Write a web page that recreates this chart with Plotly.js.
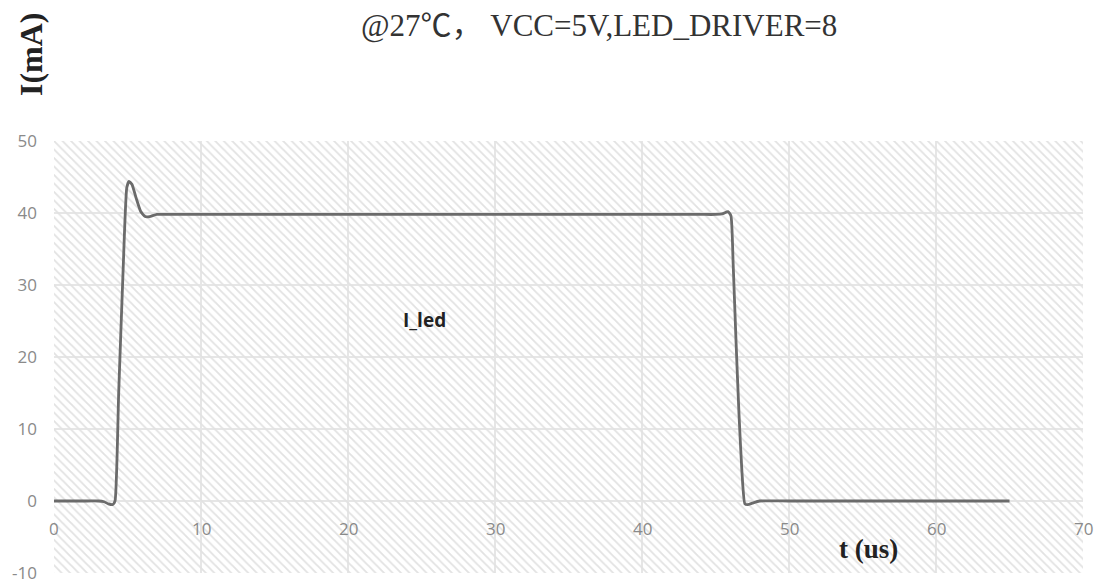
<!DOCTYPE html>
<html>
<head>
<meta charset="utf-8">
<script src="https://cdn.plot.ly/plotly-3.0.1.min.js"></script>
<style>html,body{margin:0;padding:0;background:#fff;}#chart{width:1101px;height:585px;}</style>
</head>
<body>
<div id="chart"></div>
<script>
// Time (us) and LED current (mA)
const tUs = [0, 1, 2, 3, 3.4, 3.7, 4.0, 4.15, 4.4, 4.7, 4.95, 5.1, 5.3, 5.6, 5.9, 6.2, 6.5, 7.0, 8, 10, 15, 20, 25, 30, 35, 40, 44, 45.0, 45.5, 45.85, 46.05, 46.2, 46.4, 46.6, 46.8, 47.0, 47.2, 47.5, 48, 50, 55, 60, 65];
const iLed = [0, 0, 0, 0, -0.1, -0.4, -0.5, 0, 15, 32, 43.5, 44.4, 44.0, 42.0, 40.2, 39.5, 39.5, 39.8, 39.8, 39.8, 39.8, 39.8, 39.8, 39.8, 39.8, 39.8, 39.8, 39.8, 39.9, 40.2, 39.6, 33, 22, 12, 4, -0.4, -0.5, -0.3, 0, 0, 0, 0, 0];
const seriesName = "I_led";
const xTicks = [0, 10, 20, 30, 40, 50, 60, 70];
const yTicks = [-10, 0, 10, 20, 30, 40, 50];
const titleText = "@27℃，&nbsp;VCC=5V,LED_DRIVER=8";
const yLabel = "I(mA)";
const xLabel = "t&nbsp;(us)";

const xRange = [0, 70];
const yRange = [-10, 50];

const bg = {
  x: [xRange[0], xRange[1], xRange[1], xRange[0], xRange[0]],
  y: [yRange[0], yRange[0], yRange[1], yRange[1], yRange[0]],
  mode: 'lines', line: {width: 0, color: 'rgba(0,0,0,0)'},
  fill: 'toself', fillcolor: 'rgba(0,0,0,0)',
  fillpattern: {shape: '\\', fgcolor: '#e2e2e2', bgcolor: 'rgba(0,0,0,0)', size: 6, solidity: 0.3},
  hoverinfo: 'skip', showlegend: false
};

const trace = {
  x: tUs, y: iLed, name: seriesName, mode: 'lines',
  line: {color: '#6b6b6b', width: 2.8, shape: 'spline', smoothing: 0.5},
  showlegend: false
};

const tickFont = {family: 'Open Sans, Liberation Sans, sans-serif', size: 17, color: '#8a8a8a'};

const layout = {
  width: 1101, height: 585,
  margin: {l: 54, r: 18, t: 141, b: 12},
  paper_bgcolor: '#ffffff', plot_bgcolor: '#ffffff',
  showlegend: false,
  xaxis: {
    range: xRange, tickvals: xTicks, ticktext: xTicks.map(String),
    showgrid: true, gridcolor: '#e6e6e6', gridwidth: 1.2,
    zeroline: false, showline: false, ticks: '', showticklabels: false
  },
  yaxis: {
    range: yRange, tickvals: yTicks, ticktext: yTicks.map(String),
    showgrid: true, gridcolor: '#e6e6e6', gridwidth: 1.2,
    zeroline: true, zerolinecolor: '#e6e6e6', zerolinewidth: 1.2,
    showline: false, ticks: '', tickfont: tickFont, ticklabelstandoff: 16
  },
  annotations: [
    {text: titleText, xref: 'paper', yref: 'paper', x: 0.53, y: 1, yshift: 116, xanchor: 'center', yanchor: 'middle',
     showarrow: false, font: {family: 'Liberation Serif, Noto Sans CJK SC, serif', size: 31, color: '#333'}},
    {text: '<b>' + yLabel + '</b>', xref: 'paper', yref: 'paper', x: 0, xshift: -23, y: 1, yshift: 87, textangle: -90,
     xanchor: 'center', yanchor: 'middle', showarrow: false,
     font: {family: 'Liberation Serif, serif', size: 32, color: '#222'}},
    {text: '<b>' + xLabel + '</b>', xref: 'x', yref: 'y', x: 55.4, y: -6.7, xanchor: 'center', yanchor: 'middle',
     showarrow: false, font: {family: 'Liberation Serif, serif', size: 27, color: '#222'}},
    {text: '<b>' + seriesName + '</b>', xref: 'x', yref: 'y', x: 25.2, y: 25.1, xanchor: 'center', yanchor: 'middle',
     showarrow: false, font: {family: 'Open Sans, Liberation Sans, sans-serif', size: 19, color: '#222'}}
  ].concat(xTicks.map(v => ({
    text: String(v), xref: 'x', yref: 'y', x: v, y: 0, yshift: -27, xanchor: 'center', yanchor: 'middle',
    showarrow: false, font: tickFont
  })))
};

Plotly.newPlot('chart', [bg, trace], layout, {displayModeBar: false, staticPlot: true});
</script>
</body>
</html>
